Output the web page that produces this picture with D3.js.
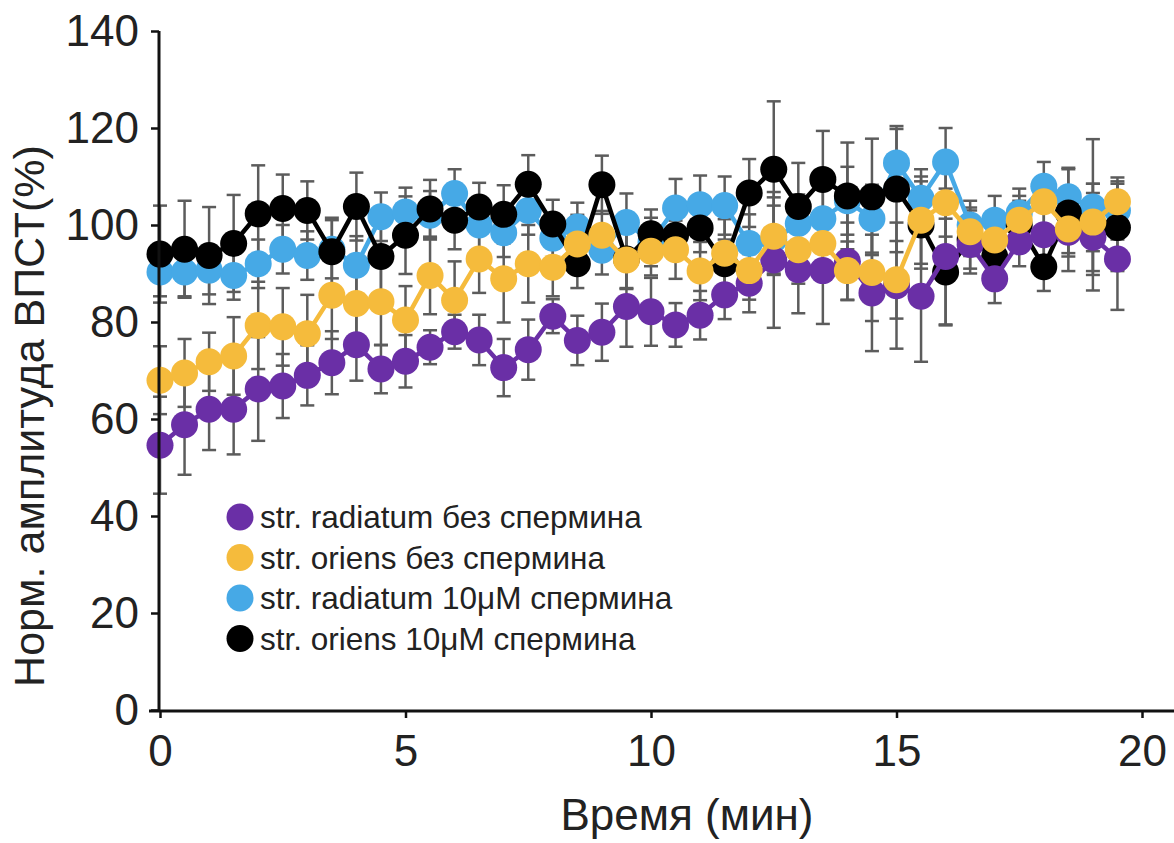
<!DOCTYPE html>
<html>
<head>
<meta charset="utf-8">
<script src="https://cdn.jsdelivr.net/npm/d3@7"></script>
<style>
  body { margin: 0; background: #fff; }
  text { font-family: "Liberation Sans", Arial, sans-serif; fill: #222; }
</style>
</head>
<body>
<div id="chart"></div>
<script>
// time points (min)
var times = [0, 0.5, 1, 1.5, 2, 2.5, 3, 3.5, 4, 4.5, 5, 5.5, 6, 6.5, 7, 7.5, 8, 8.5, 9, 9.5,
             10, 10.5, 11, 11.5, 12, 12.5, 13, 13.5, 14, 14.5, 15, 15.5, 16, 16.5, 17, 17.5, 18, 18.5, 19, 19.5]

// str. radiatum без спермина
var radNoSpm = [54.6, 58.8, 62, 62, 66.2, 66.8, 69, 71.6, 75.3, 70.3, 71.9, 74.8, 78, 76.3, 70.6, 74.3, 81.2, 76.2, 77.9, 83.2,
                82.1, 79.4, 81.4, 85.6, 88, 92.8, 90.8, 90.6, 92.5, 86, 87.5, 85.3, 93.5, 96, 88.9, 96.5, 98, 98.5, 97.5, 93]
var radNoSpmErr = [10, 10.3, 8.4, 9.3, 10.7, 6.6, 6.2, 6.5, 7.4, 5, 5.4, 3.5, 3.5, 5.2, 5.9, 6.2, 3.5, 5.1, 5.9, 8.3,
                   7, 4.5, 5, 5, 6, 14, 9, 11, 8, 12, 13, 13.5, 14, 6, 5, 5, 7, 8, 11, 10.5]

// str. oriens без спермина
var oriNoSpm = [68, 69.5, 71.8, 73, 79.3, 79, 77.6, 85.5, 83.8, 84.2, 80.4, 89.6, 84.5, 93, 88.9, 92, 91.3, 96.1, 97.9, 92.8,
                94.6, 94.9, 90.5, 94.2, 90.6, 97.7, 94.9, 96.2, 90.6, 90.2, 88.7, 101, 104.6, 98.6, 96.9, 101, 104.8, 99.2, 100.6, 104.8]
var oriNoSpmErr = [7, 7, 6, 8, 9, 8, 8, 9, 10, 9, 7, 8, 8, 7, 9, 8, 6, 6, 5, 6,
                   5, 6, 6, 7, 6, 8, 7, 7, 6, 10, 8, 9, 7, 5, 5, 5, 5, 5, 6, 5]

// str. radiatum 10µM спермина
var rad10 = [90.3, 90.3, 90.7, 89.6, 92, 95, 93.7, 95, 91.7, 101.7, 102.7, 102, 106.5, 100, 98.4, 103, 97.3, 99.6, 94.8, 100.5,
             96.5, 103.5, 104.2, 104, 96.2, 97, 100.3, 101.3, 105, 101.3, 112.8, 105.5, 113, 100, 101, 102.5, 108, 105.8, 103.7, 103]
var rad10Err = [5, 5, 5, 5, 5, 5, 5, 6, 6, 5, 5, 5, 5, 5, 5, 5, 5, 5, 5, 6,
                5, 6, 6, 6, 6, 7, 6, 6, 7, 7, 7, 6, 7, 5, 5, 5, 5, 6, 14, 6]

// str. oriens 10µM спермина
var ori10 = [94, 95, 93.7, 96.2, 102.3, 103.4, 103, 94.5, 103.8, 93.5, 97.9, 103.3, 101, 103.7, 102.2, 108.4, 100.2, 92, 108.3, 93,
             98.2, 97.9, 99.4, 92, 106.6, 111.5, 103.8, 109.4, 106, 105.8, 107.4, 100, 90.3, 97, 93.5, 100, 91.4, 102.5, 99.5, 99.5]
var ori10Err = [10, 10, 10, 10, 10, 7, 6, 7, 7, 8, 8, 6, 6, 5, 6, 6, 5, 5, 6, 6,
                5, 5, 5, 5, 7, 14, 9, 10, 11, 12, 13, 9, 11, 6, 5, 5, 5, 9, 9, 9]

var seriesNames = ['str. radiatum без спермина', 'str. oriens без спермина',
                   'str. radiatum 10μM спермина', 'str. oriens 10μM спермина']
var seriesColors = ['#6a2fa6', '#f5bb3c', '#46a9e6', '#000000']
var xTicks = [0, 5, 10, 15, 20]
var yTicks = [0, 20, 40, 60, 80, 100, 120, 140]

var series = [
    { name: seriesNames[0], color: seriesColors[0], values: radNoSpm, err: radNoSpmErr },
    { name: seriesNames[1], color: seriesColors[1], values: oriNoSpm, err: oriNoSpmErr },
    { name: seriesNames[2], color: seriesColors[2], values: rad10, err: rad10Err },
    { name: seriesNames[3], color: seriesColors[3], values: ori10, err: ori10Err }
]

var width = 1174
var height = 843

var svg = d3.select('#chart')
    .append('svg')
    .attr('width', width)
    .attr('height', height)

var x = d3.scaleLinear().domain([0, 20]).range([160, 1142])
var y = d3.scaleLinear().domain([0, 140]).range([710, 31])

// error bars first so markers sit on top
series.forEach(function (s) {
    var g = svg.append('g').attr('stroke', '#5c5c5c').attr('stroke-width', 2.5)
    times.forEach(function (t, i) {
        var cx = x(t), lo = y(s.values[i] - s.err[i]), hi = y(s.values[i] + s.err[i])
        g.append('line').attr('x1', cx).attr('x2', cx).attr('y1', lo).attr('y2', hi)
        g.append('line').attr('x1', cx - 7).attr('x2', cx + 7).attr('y1', lo).attr('y2', lo)
        g.append('line').attr('x1', cx - 7).attr('x2', cx + 7).attr('y1', hi).attr('y2', hi)
    })
})

// draw order: blue, black, purple, yellow
var order = [2, 3, 0, 1]
var line = d3.line()
    .x(function (d) { return x(d.t) })
    .y(function (d) { return y(d.v) })

order.forEach(function (k) {
    var s = series[k]
    var pts = times.map(function (t, i) { return { t: t, v: s.values[i] } })
    svg.append('path')
        .datum(pts)
        .attr('d', line)
        .attr('fill', 'none')
        .attr('stroke', s.color)
        .attr('stroke-width', 4.5)
    svg.append('g').selectAll('circle')
        .data(pts)
        .enter()
        .append('circle')
        .attr('cx', function (d) { return x(d.t) })
        .attr('cy', function (d) { return y(d.v) })
        .attr('r', 13.5)
        .attr('fill', s.color)
})

// axes
var xAxis = svg.append('g')
    .attr('transform', 'translate(0,711)')
    .call(d3.axisBottom(x).tickValues(xTicks).tickSize(7).tickPadding(17).tickSizeOuter(0))
xAxis.select('.domain').remove()
xAxis.append('line').attr('x1', 149).attr('x2', 1174).attr('y1', 0).attr('y2', 0)
    .attr('stroke', '#111').attr('stroke-width', 3)

var yAxis = svg.append('g')
    .attr('transform', 'translate(159,0)')
    .call(d3.axisLeft(y).tickValues(yTicks).tickSize(8).tickPadding(12).tickSizeOuter(0))
yAxis.select('.domain').remove()
yAxis.append('line').attr('x1', 0).attr('x2', 0).attr('y1', y(140)).attr('y2', 712)
    .attr('stroke', '#111').attr('stroke-width', 3)

svg.selectAll('.tick line').attr('stroke', '#111').attr('stroke-width', 2.5)
svg.selectAll('.tick text')
    .style('font-family', '"Liberation Sans", Arial, sans-serif')
    .style('font-size', '44px')
    .attr('fill', '#222')

// axis titles
svg.append('text')
    .attr('x', 687).attr('y', 830)
    .attr('text-anchor', 'middle')
    .style('font-size', '44px')
    .text('Время (мин)')

svg.append('text')
    .attr('transform', 'translate(44,416) rotate(-90)')
    .attr('text-anchor', 'middle')
    .style('font-size', '43px')
    .text('Норм. амплитуда ВПСТ(%)')

// legend
var legend = svg.append('g')
var legendItem = legend.selectAll('g')
    .data(series)
    .enter()
    .append('g')
    .attr('transform', function (d, i) { return 'translate(240,' + (517 + i * 40.5) + ')' })

legendItem.append('circle').attr('r', 13.5).attr('fill', function (d) { return d.color })
legendItem.append('text')
    .attr('x', 20).attr('dy', '0.35em')
    .style('font-size', '31.5px')
    .text(function (d) { return d.name })
</script>
</body>
</html>
